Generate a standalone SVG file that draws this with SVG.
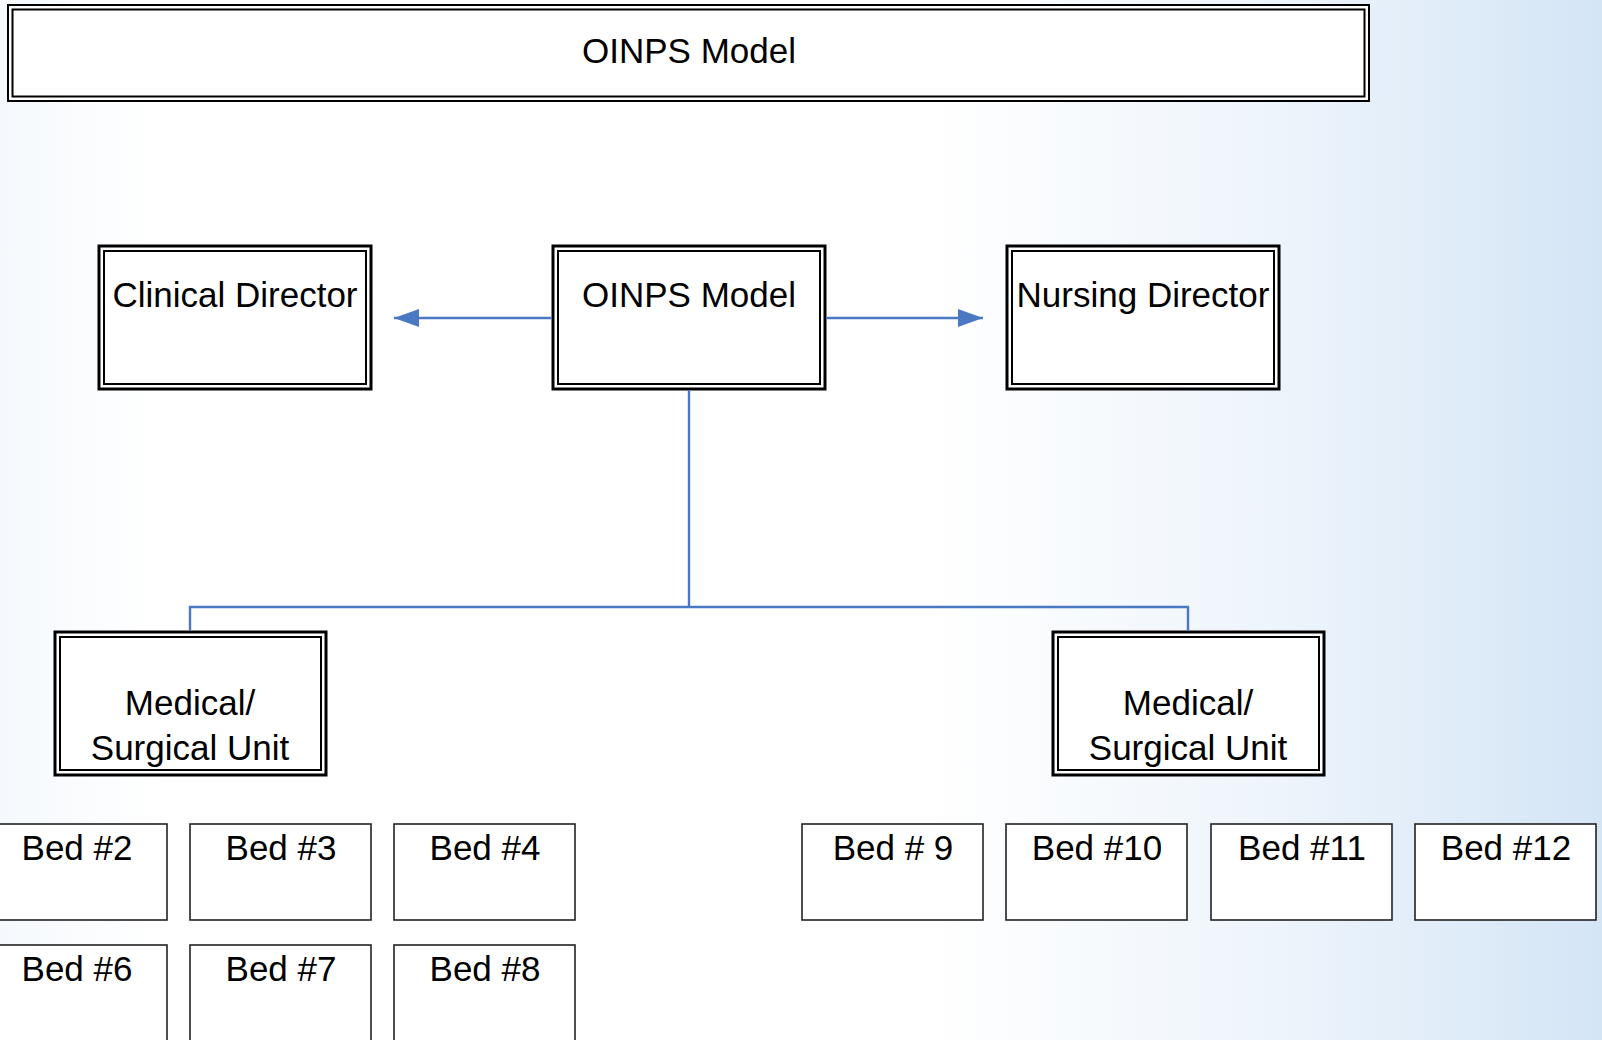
<svg xmlns="http://www.w3.org/2000/svg" width="1602" height="1040" viewBox="0 0 1602 1040">
<defs>
<linearGradient id="bg" x1="0" y1="0" x2="1" y2="0">
<stop offset="0" stop-color="#f5f9fd"/>
<stop offset="0.1" stop-color="#ffffff"/>
<stop offset="0.58" stop-color="#ffffff"/>
<stop offset="0.8" stop-color="#edf4fb"/>
<stop offset="1" stop-color="#d4e5f6"/>
</linearGradient>
<marker id="arr" markerWidth="26" markerHeight="18" refX="25" refY="9" orient="auto" markerUnits="userSpaceOnUse">
<path d="M0,0 L25,9 L0,18 Z" fill="#4a78c2"/>
</marker>
<style>
.outer{fill:#ffffff;stroke:#000;stroke-width:3}
.inner{fill:none;stroke:#000;stroke-width:2}
.bed{fill:#ffffff;stroke:#222;stroke-width:1.6}
.t{font-family:"Liberation Sans",Arial,sans-serif;font-size:35px;fill:#000;text-anchor:middle}
.conn{fill:none;stroke:#4a78c2;stroke-width:2.4}
</style>
</defs>
<rect x="0" y="0" width="1602" height="1040" fill="url(#bg)"/>

<g id="title">
<rect x="8" y="5" width="1361" height="96" fill="#fff" stroke="#000" stroke-width="2"/>
<rect x="12.5" y="9.5" width="1352" height="87" class="inner"/>
<text x="689" y="63" class="t" font-size="36">OINPS Model</text>
</g>

<g id="clinical-director">
<rect x="99" y="246" width="272" height="143" class="outer"/>
<rect x="104" y="251" width="262" height="133" class="inner"/>
<text x="235" y="307" class="t">Clinical Director</text>
</g>

<g id="oinps-model">
<rect x="553" y="246" width="272" height="143" class="outer"/>
<rect x="558" y="251" width="262" height="133" class="inner"/>
<text x="689" y="307" class="t">OINPS Model</text>
</g>

<g id="nursing-director">
<rect x="1007" y="246" width="272" height="143" class="outer"/>
<rect x="1012" y="251" width="262" height="133" class="inner"/>
<text x="1143" y="307" class="t">Nursing Director</text>
</g>

<g id="unit-left">
<rect x="55" y="632" width="271" height="143" class="outer"/>
<rect x="60" y="637" width="261" height="133" class="inner"/>
<text x="190" y="715" class="t">Medical/</text>
<text x="190" y="760" class="t">Surgical Unit</text>
</g>

<g id="unit-right">
<rect x="1053" y="632" width="271" height="143" class="outer"/>
<rect x="1058" y="637" width="261" height="133" class="inner"/>
<text x="1188" y="715" class="t">Medical/</text>
<text x="1188" y="760" class="t">Surgical Unit</text>
</g>

<g id="bed2"><rect x="-14" y="824" width="181" height="96" class="bed"/><text x="77" y="860" class="t">Bed #2</text></g>
<g id="bed3"><rect x="190" y="824" width="181" height="96" class="bed"/><text x="281" y="860" class="t">Bed #3</text></g>
<g id="bed4"><rect x="394" y="824" width="181" height="96" class="bed"/><text x="485" y="860" class="t">Bed #4</text></g>
<g id="bed6"><rect x="-14" y="945" width="181" height="110" class="bed"/><text x="77" y="981" class="t">Bed #6</text></g>
<g id="bed7"><rect x="190" y="945" width="181" height="110" class="bed"/><text x="281" y="981" class="t">Bed #7</text></g>
<g id="bed8"><rect x="394" y="945" width="181" height="110" class="bed"/><text x="485" y="981" class="t">Bed #8</text></g>
<g id="bed9"><rect x="802" y="824" width="181" height="96" class="bed"/><text x="893" y="860" class="t">Bed # 9</text></g>
<g id="bed10"><rect x="1006" y="824" width="181" height="96" class="bed"/><text x="1097" y="860" class="t">Bed #10</text></g>
<g id="bed11"><rect x="1211" y="824" width="181" height="96" class="bed"/><text x="1302" y="860" class="t">Bed #11</text></g>
<g id="bed12"><rect x="1415" y="824" width="181" height="96" class="bed"/><text x="1506" y="860" class="t">Bed #12</text></g>

<g id="connectors">
<line x1="552" y1="318" x2="394" y2="318" class="conn" stroke-width="2" marker-end="url(#arr)"/>
<line x1="826" y1="318" x2="983" y2="318" class="conn" stroke-width="2" marker-end="url(#arr)"/>
<polyline points="689,390 689,607" class="conn" stroke-width="2.8"/>
<polyline points="190,631 190,607 1188,607 1188,631" class="conn" stroke-width="2.8"/>
</g>
</svg>
